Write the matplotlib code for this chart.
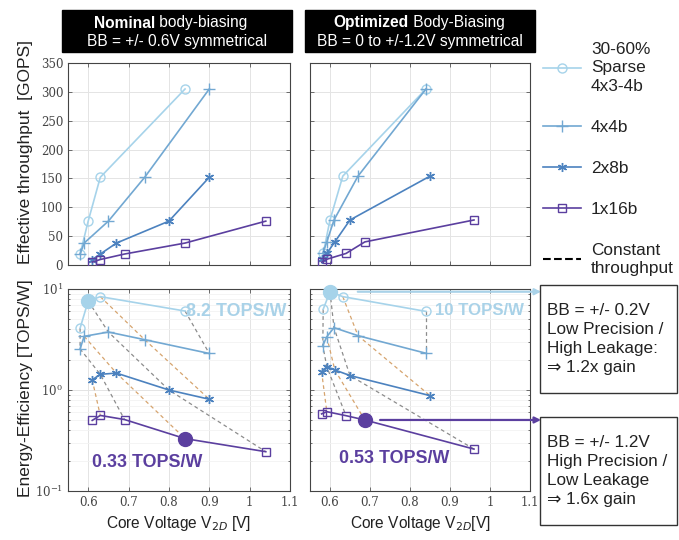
"""
Throughput / energy-efficiency vs core voltage, nominal vs optimized body-biasing
"""
import matplotlib
matplotlib.use('Agg')
import matplotlib.pyplot as plt
from matplotlib import font_manager
from matplotlib.lines import Line2D
from matplotlib.patches import Rectangle
from matplotlib.ticker import FuncFormatter, LogLocator, NullFormatter, MultipleLocator

# pick a narrow sans if we have one, otherwise shrink sizes a bit
names = {f.name for f in font_manager.fontManager.ttflist}
if 'Liberation Sans Narrow' in names:
    FONT, K = 'Liberation Sans Narrow', 1.0
else:
    FONT, K = 'Liberation Sans', 0.86
plt.rcParams['font.family'] = [FONT, 'DejaVu Sans']

# --- data ---
series_labels = ['30-60%\nSparse\n4x3-4b', '4x4b', '2x8b', '1x16b']

# nominal body-biasing (left column)
nom_volt = [[0.58, 0.60, 0.63, 0.84],
            [0.58, 0.59, 0.65, 0.74, 0.90],
            [0.61, 0.63, 0.67, 0.80, 0.90],
            [0.61, 0.63, 0.69, 0.84, 1.04]]
nom_gops = [[19, 76, 152, 305],
            [19, 38, 76, 152, 305],
            [9.5, 19, 38, 76, 152],
            [5, 9.5, 19, 38, 76]]
nom_eff = [[4.1, 7.6, 8.4, 6.05],
           [2.55, 3.4, 3.75, 3.15, 2.3],
           [1.26, 1.43, 1.47, 1.0, 0.81],
           [0.50, 0.56, 0.51, 0.33, 0.245]]

# optimized body-biasing (right column)
opt_volt = [[0.583, 0.60, 0.632, 0.84],
            [0.582, 0.592, 0.61, 0.67, 0.84],
            [0.579, 0.592, 0.612, 0.65, 0.85],
            [0.579, 0.592, 0.64, 0.687, 0.96]]
opt_gops = [[20, 78, 154, 305],
            [20, 40, 78, 154, 305],
            [10, 20, 40, 78, 154],
            [5, 10, 20, 40, 78]]
opt_eff = [[6.3, 9.4, 8.4, 6.0],
           [2.75, 3.37, 4.14, 3.45, 2.31],
           [1.52, 1.70, 1.58, 1.39, 0.88],
           [0.58, 0.61, 0.557, 0.505, 0.26]]

# highlighted points: (series, index, label)
nom_marks = [(0, 1, '8.2 TOPS/W'), (3, 3, '0.33 TOPS/W')]
opt_marks = [(0, 1, '10 TOPS/W'), (3, 3, '0.53 TOPS/W')]

colors = ['#a6d3ea', '#72a8d2', '#4c82bf', '#5b3f9f']
markers = ['o', '+', (6, 2, 0), 's']
msizes = [6.5, 8, 6.5, 5.5]
const_colors = ['#8c8c8c', '#d6a46e']

W, H = 679, 540


def fx(px):
    return px / W


def fy(py):
    return 1 - py / H


fig = plt.figure(figsize=(W / 100, H / 100), dpi=100)

ax_tl = fig.add_axes([fx(68), fy(265), 222 / W, 202 / H])
ax_tr = fig.add_axes([fx(310), fy(265), 220 / W, 202 / H])
ax_bl = fig.add_axes([fx(68), fy(491), 222 / W, 202 / H])
ax_br = fig.add_axes([fx(310), fy(491), 220 / W, 202 / H])

tick_font = dict(family='DejaVu Serif', size=8.5, color='#444444')


def style_axis(ax, log=False):
    ax.set_xlim(0.55, 1.1)
    ax.xaxis.set_major_locator(MultipleLocator(0.1))
    ax.xaxis.set_major_formatter(FuncFormatter(lambda v, p: '%g' % round(v, 2)))
    if log:
        ax.set_yscale('log')
        ax.set_ylim(0.1, 10)
        ax.yaxis.set_major_locator(LogLocator(base=10))
        ax.yaxis.set_minor_locator(LogLocator(base=10, subs=range(2, 10)))
        ax.yaxis.set_minor_formatter(NullFormatter())
        ax.grid(True, which='minor', axis='y', color='#f2f2f2', lw=0.6)
    else:
        ax.set_ylim(0, 350)
        ax.yaxis.set_major_locator(MultipleLocator(50))
    ax.grid(True, which='major', color='#e4e4e4', lw=0.7)
    ax.set_axisbelow(True)
    ax.tick_params(which='both', direction='in', top=True, right=True,
                   length=3, width=0.6, colors='#555555', labelcolor='#444444')
    ax.tick_params(which='minor', length=1.5)
    for lab in ax.get_xticklabels() + ax.get_yticklabels():
        lab.set_fontfamily(tick_font['family'])
        lab.set_fontsize(tick_font['size'])
    for sp in ax.spines.values():
        sp.set_color('#444444')
        sp.set_linewidth(0.8)


def draw_panel(ax_t, ax_e, volt, gops, eff, marks):
    for i in range(len(volt)):
        kw = dict(color=colors[i], marker=markers[i], ms=msizes[i], mfc='none',
                  mew=1.0, lw=1.2, zorder=3)
        ax_t.plot(volt[i], gops[i], **kw)
        ax_e.plot(volt[i], eff[i], **kw)

    # constant-throughput lines join equal GOPS across configurations
    levels = sorted({g for gs in gops for g in gs})
    for k, lev in enumerate(levels):
        pts = [(v[j], e[j]) for v, g, e in zip(volt, gops, eff)
               for j in range(len(g)) if g[j] == lev]
        if len(pts) > 1:
            xs, ys = zip(*pts)
            ax_e.plot(xs, ys, ls='--', dashes=(3, 2.5), lw=0.9,
                      color=const_colors[k % 2], zorder=2)

    for s, j, _ in marks:
        ax_e.plot(volt[s][j], eff[s][j], 'o', ms=10, color=colors[s],
                  zorder=4, clip_on=False)


style_axis(ax_tl)
style_axis(ax_tr)
style_axis(ax_bl, log=True)
style_axis(ax_br, log=True)

draw_panel(ax_tl, ax_bl, nom_volt, nom_gops, nom_eff, nom_marks)
draw_panel(ax_tr, ax_br, opt_volt, opt_gops, opt_eff, opt_marks)

for ax in (ax_tl, ax_tr):
    ax.tick_params(labelbottom=False)
for ax in (ax_tr, ax_br):
    ax.tick_params(labelleft=False)

# TOPS/W callouts
ax_bl.text(0.843, 6.0, nom_marks[0][2], color='#a9d2e8', fontsize=15 * K,
           fontweight='bold', va='center', ha='left', zorder=5)
ax_bl.text(0.61, 0.19, nom_marks[1][2], color=colors[3], fontsize=15 * K,
           fontweight='bold', va='center', ha='left', zorder=5)
ax_br.text(0.862, 6.1, opt_marks[0][2], color='#a9d2e8', fontsize=14 * K,
           fontweight='bold', va='center', ha='left', zorder=5)
ax_br.text(0.623, 0.212, opt_marks[1][2], color=colors[3], fontsize=15 * K,
           fontweight='bold', va='center', ha='left', zorder=5)

# axis labels
ax_tl.set_ylabel('Effective throughput  [GOPS]', fontsize=12.5, color='#222222')
ax_tl.yaxis.set_label_coords(-0.158, 0.56)
ax_bl.set_ylabel('Energy-Efficiency [TOPS/W]', fontsize=12.5, color='#222222')
ax_bl.yaxis.set_label_coords(-0.158, 0.51)
ax_bl.set_xlabel('Core Voltage V$_{2D}$ [V]', fontsize=13 * K, color='#222222', labelpad=4)
ax_br.set_xlabel('Core Voltage V$_{2D}$[V]', fontsize=13 * K, color='#222222', labelpad=4)

# black title banners
for x0, x1, split, bold, rest, line2 in [
        (62, 292, 155, 'Nominal', ' body-biasing', 'BB = +/- 0.6V symmetrical'),
        (305, 535, 409, 'Optimized', ' Body-Biasing', 'BB = 0 to +/-1.2V symmetrical')]:
    fig.add_artist(Rectangle((fx(x0), fy(52)), (x1 - x0) / W, 42 / H,
                             transform=fig.transFigure, color='black', zorder=0))
    fig.text(fx(split), fy(23), bold, color='white', fontsize=13 * K,
             fontweight='bold', ha='right', va='center')
    fig.text(fx(split), fy(23), rest, color='white', fontsize=13 * K,
             ha='left', va='center')
    fig.text(fx((x0 + x1) / 2), fy(42), line2, color='white', fontsize=13 * K,
             ha='center', va='center')

# legend on the right
handles = [Line2D([], [], color=colors[i], marker=markers[i], ms=msizes[i],
                  mfc='none', mew=1.0, lw=1.2) for i in range(4)]
handles.append(Line2D([], [], color='black', ls='--', lw=1.5))
leg = fig.legend(handles, series_labels + ['Constant\nthroughput'],
                 loc='upper left', bbox_to_anchor=(fx(536), fy(35)), frameon=False,
                 fontsize=12.4, handlelength=2.2, handletextpad=0.6,
                 labelspacing=1.5, borderaxespad=0)
for t in leg.get_texts():
    t.set_linespacing(1.3)
    t.set_color('#222222')

# annotation boxes + arrows
box_text = ['BB = +/- 0.2V\nLow Precision /\nHigh Leakage:\n\u21d2 1.2x gain',
            'BB = +/- 1.2V\nHigh Precision /\nLow Leakage\n\u21d2 1.6x gain']
for (top, bot), txt in zip([(285, 393), (417, 525)], box_text):
    fig.add_artist(Rectangle((fx(540), fy(bot)), 137 / W, (bot - top) / H,
                             transform=fig.transFigure, fill=False,
                             ec='#333333', lw=1.0))
    fig.text(fx(547), fy((top + bot) / 2), txt, fontsize=12.3,
             color='#222222', ha='left', va='center', linespacing=1.32)

for (s, j, _), col, gap in [(opt_marks[0], '#a9d2e8', 20), (opt_marks[1], colors[3], 11)]:
    y = opt_eff[s][j]
    ax_br.annotate('', xy=(fx(541), y), xycoords=('figure fraction', 'data'),
                   xytext=(opt_volt[s][j], y), textcoords='data',
                   arrowprops=dict(arrowstyle='-|>', color=col, lw=1.6,
                                   shrinkA=gap, shrinkB=0, mutation_scale=9),
                   annotation_clip=False, zorder=6)

fig.savefig('out.png', dpi=100)
